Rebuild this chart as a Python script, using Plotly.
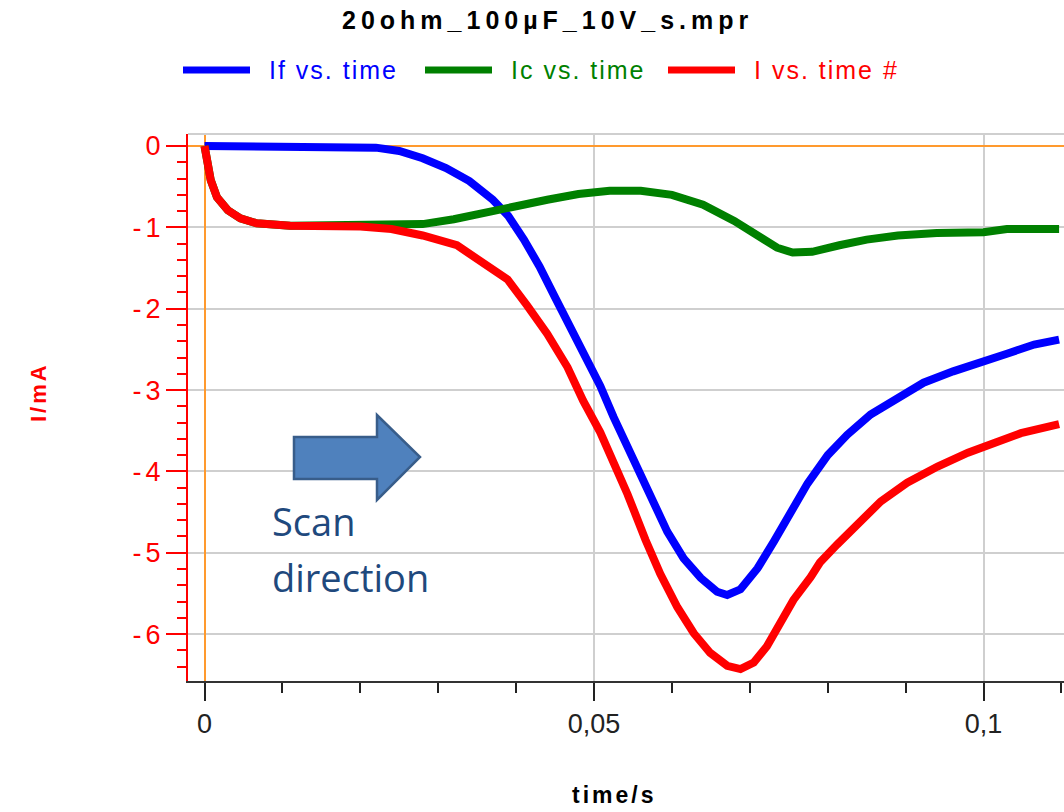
import plotly.graph_objects as go

# ---------------- data ----------------
t_if = [0, 0.02, 0.022, 0.025, 0.028, 0.031, 0.034, 0.037, 0.039, 0.041, 0.043, 0.045,
        0.0475, 0.0495, 0.0508, 0.0525, 0.0543, 0.0559, 0.0576, 0.0594, 0.0615, 0.0637,
        0.0658, 0.0671, 0.0688, 0.071, 0.0731, 0.0752, 0.0774, 0.08, 0.0825, 0.0855,
        0.0889, 0.0923, 0.0961, 0.0996, 0.1031, 0.1065, 0.1097]
i_f = [0, 0, -0.02, -0.06, -0.15, -0.27, -0.43, -0.66, -0.86, -1.15, -1.48, -1.86,
       -2.31, -2.7, -2.95, -3.33, -3.71, -4.04, -4.41, -4.74, -5.07, -5.31,
       -5.48, -5.52, -5.45, -5.19, -4.86, -4.53, -4.15, -3.8, -3.55, -3.3,
       -3.1, -2.91, -2.77, -2.67, -2.55, -2.44, -2.38]

t_ic = [0, 0.0003, 0.0008, 0.0016, 0.003, 0.0046, 0.0067, 0.011, 0.02, 0.025, 0.028,
        0.032, 0.036, 0.04, 0.044, 0.048, 0.052, 0.056, 0.06, 0.064, 0.068, 0.071,
        0.0735, 0.0755, 0.078, 0.0815, 0.085, 0.089, 0.094, 0.1, 0.103, 0.1097]
i_c = [0, -0.2, -0.42, -0.63, -0.79, -0.89, -0.95, -0.98, -0.98, -0.98, -0.96,
       -0.9, -0.83, -0.74, -0.66, -0.59, -0.55, -0.55, -0.6, -0.72, -0.92, -1.1,
       -1.25, -1.31, -1.3, -1.22, -1.15, -1.1, -1.07, -1.06, -1.02, -1.02]

t_i = [0, 0.0003, 0.0008, 0.0016, 0.003, 0.0046, 0.0067, 0.011, 0.02, 0.024, 0.028,
       0.0324, 0.0354, 0.0389, 0.0414, 0.044, 0.0466, 0.0486, 0.0508, 0.0525, 0.0543,
       0.0566, 0.0585, 0.0607, 0.0628, 0.0649, 0.0671, 0.0688, 0.0705, 0.0722, 0.0739,
       0.0756, 0.0778, 0.079, 0.0812, 0.0833, 0.0868, 0.0902, 0.0941, 0.098, 0.1013,
       0.1048, 0.1097]
i_tot = [0, -0.2, -0.42, -0.63, -0.79, -0.89, -0.95, -0.98, -0.99, -1.02, -1.1,
         -1.22, -1.41, -1.64, -1.96, -2.31, -2.72, -3.13, -3.52, -3.88, -4.28,
         -4.84, -5.26, -5.67, -5.99, -6.23, -6.39, -6.43, -6.35, -6.15, -5.87,
         -5.58, -5.3, -5.12, -4.9, -4.7, -4.37, -4.14, -3.94, -3.77, -3.65,
         -3.53, -3.42]

series_names = ["If vs. time", "Ic vs. time", "I vs. time #"]
series_colors = ["#0000FF", "#008000", "#FF0000"]

y_tick_vals = [0, -1, -2, -3, -4, -5, -6]
y_tick_text = ["0", "-1", "-2", "-3", "-4", "-5", "-6"]
x_tick_vals = [0, 0.05, 0.1]
x_tick_text = ["0", "0,05", "0,1"]

title_text = "20ohm_100µF_10V_s.mpr"
x_title = "time/s"
y_title = "I/mA"
note_text = ["Scan", "direction"]

# ---------------- layout geometry ----------------
W, H = 1064, 812
L, R, T, B = 188, 0, 134, 131
PW, PH = W - L - R, H - T - B
FONT = "Liberation Sans, Arial, sans-serif"


def px(x):
    return (x - L) / PW


def py(y):
    return (H - B - y) / PH


def spaced(s, sp):
    return f"<span style='letter-spacing:{sp}px'>{s}</span>"


fig = go.Figure()
for tx, vals, name, col in zip([t_if, t_ic, t_i], [i_f, i_c, i_tot], series_names, series_colors):
    fig.add_trace(go.Scatter(x=tx, y=vals, mode="lines", name=name,
                             line=dict(color=col, width=8), showlegend=False))

shapes = []
annotations = []

# top frame line (light grey)
shapes.append(dict(type="line", xref="paper", yref="paper", x0=0, x1=1, y0=1, y1=1,
                   line=dict(color="#CFCFCF", width=2)))

# legend (manual, long line samples, coloured text)
leg_sample_x = [183, 425, 668]
for x0, name, col in zip(leg_sample_x, series_names, series_colors):
    shapes.append(dict(type="line", xref="paper", yref="paper",
                       x0=px(x0), x1=px(x0 + 67), y0=py(70), y1=py(70),
                       line=dict(color=col, width=7)))
    annotations.append(dict(xref="paper", yref="paper", x=px(x0 + 84), y=py(70),
                            xanchor="left", yanchor="middle", showarrow=False,
                            text=spaced(name, 2),
                            font=dict(family=FONT, size=25, color=col)))

# title
annotations.append(dict(xref="paper", yref="paper", x=px(547), y=py(20),
                        xanchor="center", yanchor="middle", showarrow=False,
                        text="<b>" + spaced(title_text, 5) + "</b>",
                        font=dict(family=FONT, size=25, color="#000000")))
# axis titles
annotations.append(dict(xref="paper", yref="paper", x=px(614), y=py(810),
                        xanchor="center", yanchor="bottom", showarrow=False,
                        text="<b>" + spaced(x_title, 3) + "</b>",
                        font=dict(family=FONT, size=23, color="#000000")))
annotations.append(dict(xref="paper", yref="paper", x=px(38), y=py(392),
                        xanchor="center", yanchor="middle", showarrow=False, textangle=-90,
                        text="<b>" + spaced(y_title, 3) + "</b>",
                        font=dict(family=FONT, size=22, color="#FF0000")))

# scan direction arrow (block arrow) + label
pts = [(294, 437), (377, 437), (377, 415), (420, 457), (377, 500), (377, 479), (294, 479)]
path = "M " + " L ".join(f"{px(a):.5f},{py(b):.5f}" for a, b in pts) + " Z"
shapes.append(dict(type="path", xref="paper", yref="paper", path=path,
                   fillcolor="#4F81BD", line=dict(color="#385D8A", width=2.5)))
annotations.append(dict(xref="paper", yref="paper", x=px(270), y=py(521),
                        xanchor="left", yanchor="middle", showarrow=False,
                        text=note_text[0],
                        font=dict(family="Open Sans, sans-serif", size=38, color="#1F497D")))
annotations.append(dict(xref="paper", yref="paper", x=px(270), y=py(577),
                        xanchor="left", yanchor="middle", showarrow=False,
                        text=note_text[1],
                        font=dict(family="Open Sans, sans-serif", size=38, color="#1F497D")))

y_tick_html = [spaced(t[0], 4) + t[1:] if t.startswith("-") else t for t in y_tick_text]

fig.update_layout(
    width=W, height=H, autosize=False,
    margin=dict(l=L, r=R, t=T, b=B, pad=0),
    paper_bgcolor="white", plot_bgcolor="white",
    showlegend=False,
    font=dict(family=FONT),
    shapes=shapes, annotations=annotations,
    xaxis=dict(
        range=[-0.00212, 0.11033], tickmode="array", tickvals=x_tick_vals, ticktext=x_tick_text,
        ticks="outside", ticklen=18, tickwidth=2, tickcolor="#222222",
        tickfont=dict(family=FONT, size=27, color="#222222"),
        showline=True, linecolor="#333333", linewidth=2,
        showgrid=True, gridcolor="#CFCFCF", gridwidth=2,
        zeroline=True, zerolinecolor="#FF9A2E", zerolinewidth=2,
        minor=dict(ticks="outside", ticklen=10, tickwidth=2, tickcolor="#222222",
                   tick0=0, dtick=0.01, showgrid=False),
        fixedrange=True,
    ),
    yaxis=dict(
        range=[-6.577, 0.148], tickmode="array", tickvals=y_tick_vals, ticktext=y_tick_html,
        ticks="outside", ticklen=20, tickwidth=2, tickcolor="#FF0000",
        tickfont=dict(family=FONT, size=27, color="#FF0000"),
        showline=True, linecolor="#FF0000", linewidth=2,
        showgrid=True, gridcolor="#CFCFCF", gridwidth=2,
        zeroline=True, zerolinecolor="#FF9A2E", zerolinewidth=2,
        minor=dict(ticks="outside", ticklen=9, tickwidth=2, tickcolor="#FF0000",
                   tick0=0, dtick=0.2, showgrid=False),
        fixedrange=True,
    ),
)

fig.write_html("out.html")
